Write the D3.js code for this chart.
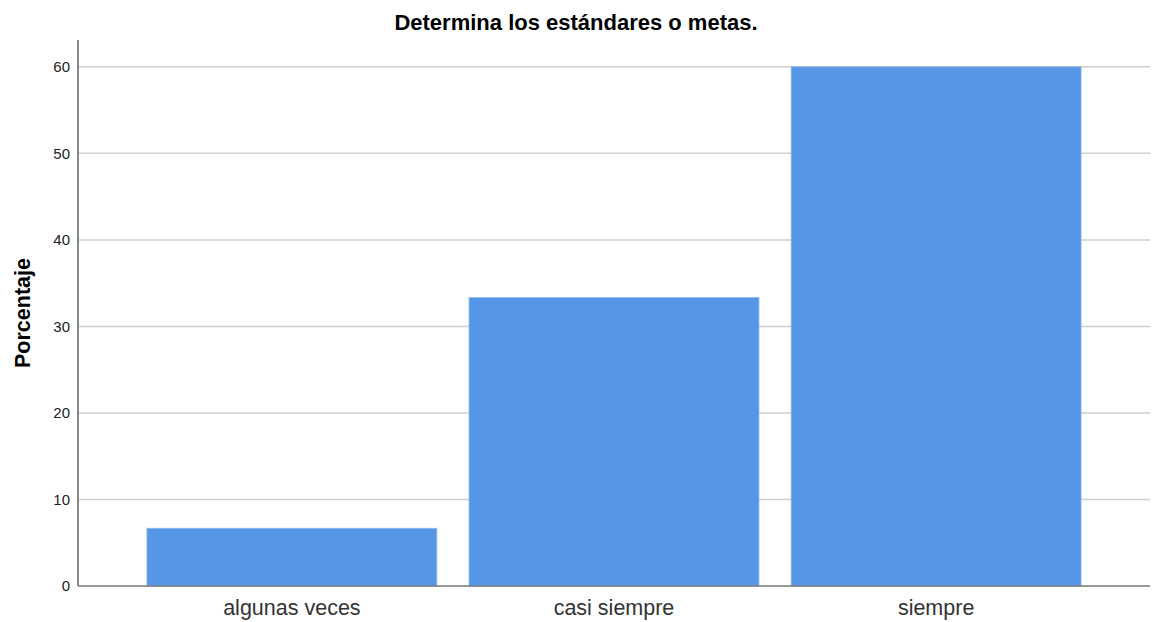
<!DOCTYPE html>
<html><head><meta charset="utf-8">
<script src="https://cdn.jsdelivr.net/npm/d3@7"></script>
<style>body{margin:0;background:#fff;}svg{display:block;font-family:"Liberation Sans",Arial,sans-serif;}</style>
</head><body>
<svg id="c" width="1152" height="622"></svg>
<script>
const categories = ["algunas veces", "casi siempre", "siempre"];
const values = [6.67, 33.33, 60];
const yTicks = [0, 10, 20, 30, 40, 50, 60];
const title = "Determina los estándares o metas.";
const yLabel = "Porcentaje";

const svg = d3.select("#c");
const mLeft = 78, mRight = 1150, mTop = 40, mBottom = 586;
const x = d3.scaleBand().domain(categories).range([mLeft, mRight]).paddingInner(0.1).paddingOuter(0.214);
const y = d3.scaleLinear().domain([0, 63.1]).range([mBottom, mTop]);

// gridlines
svg.append("g").selectAll("line").data(yTicks.filter(d => d > 0)).join("line")
  .attr("x1", mLeft).attr("x2", mRight).attr("y1", d => y(d)).attr("y2", d => y(d))
  .attr("stroke", "#cfcfcf").attr("stroke-width", 1.5);

// bars
svg.append("g").selectAll("rect").data(values).join("rect")
  .attr("x", (d, i) => x(categories[i])).attr("width", x.bandwidth())
  .attr("y", d => y(d)).attr("height", d => mBottom - y(d))
  .attr("fill", "#5596e6").attr("stroke", "#8ab8f0").attr("stroke-width", 0.8);

// y axis
const ya = svg.append("g").attr("transform", `translate(${mLeft},0)`)
  .call(d3.axisLeft(y).tickValues(yTicks).tickSize(0).tickPadding(8));
ya.select(".domain").attr("stroke", "#888").attr("stroke-width", 2).attr("d", `M0,${mTop}V${mBottom}`);
ya.selectAll("text").attr("font-size", 15).attr("fill", "#222").attr("font-family", "Liberation Sans, Arial, sans-serif");

// x axis
const xa = svg.append("g").attr("transform", `translate(0,${mBottom})`)
  .call(d3.axisBottom(x).tickSize(0).tickPadding(14));
xa.select(".domain").attr("stroke", "#777").attr("stroke-width", 1.5).attr("d", `M${mLeft},0H${mRight}`);
xa.selectAll("text").attr("font-size", 21.5).attr("fill", "#333").attr("font-family", "Liberation Sans, Arial, sans-serif");

svg.append("text").attr("x", 576).attr("y", 29.5).attr("text-anchor", "middle")
  .attr("font-size", 22).attr("font-weight", "bold").attr("fill", "#000").text(title);

svg.append("text").attr("transform", `translate(30,${(mTop + mBottom) / 2}) rotate(-90)`)
  .attr("text-anchor", "middle").attr("font-size", 21.5).attr("font-weight", "bold").attr("fill", "#000").text(yLabel);
</script>
</body></html>
